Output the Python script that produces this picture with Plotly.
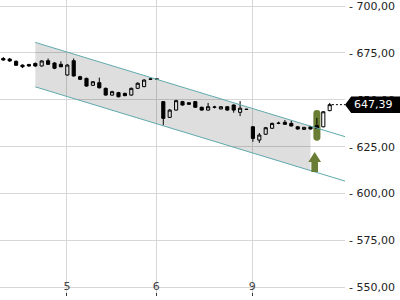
import plotly.graph_objects as go

# ---- data ----
idx = list(range(52))
open_ = [672.0, 671.7, 670.5, 668.5, 668.8, 669.4, 668.0, 670.8, 669.6, 668.9,
         663.2, 670.8, 662.3, 661.4, 657.7, 659.1, 656.1, 652.5, 653.8, 653.4,
         652.5, 656.1, 657.0, 661.1, 661.0, 649.0, 640.6, 644.5, 649.0, 648.4,
         649.0, 646.0, 644.5, 646.0, 645.1, 646.3, 647.2, 643.3, 644.9, 635.6,
         628.5, 631.6, 634.8, 637.4, 638.0, 637.4, 635.6, 634.2, 635.6, 636.2,
         635.6, 644.2]
high = [672.8, 672.3, 671.0, 668.8, 669.2, 669.8, 671.0, 672.0, 670.0, 670.5,
        669.0, 672.0, 662.8, 661.8, 660.0, 661.8, 656.5, 654.8, 654.2, 653.8,
        656.5, 659.3, 661.0, 661.2, 661.1, 649.3, 645.0, 650.0, 649.4, 648.8,
        649.3, 646.3, 648.3, 646.8, 646.6, 646.6, 647.5, 649.3, 645.0, 636.0,
        632.3, 635.5, 637.8, 638.3, 639.2, 639.0, 635.9, 635.5, 635.9, 640.3,
        644.0, 648.3]
low = [670.8, 670.2, 668.0, 666.9, 667.6, 667.6, 667.8, 668.6, 666.3, 667.4,
       662.8, 662.3, 660.5, 657.0, 657.4, 656.0, 652.2, 652.2, 651.3, 651.9,
       652.2, 655.8, 656.7, 660.9, 660.9, 636.5, 640.3, 644.2, 646.9, 647.3,
       645.7, 644.2, 644.3, 645.4, 644.9, 644.2, 643.1, 641.3, 644.8, 627.6,
       627.0, 631.3, 634.5, 637.0, 636.7, 635.8, 634.2, 634.0, 634.2, 634.6,
       635.3, 643.9]
close = [671.2, 670.7, 668.4, 667.6, 668.0, 668.0, 670.7, 668.9, 666.8, 667.6,
         668.5, 662.7, 660.9, 657.3, 659.6, 656.4, 652.5, 654.3, 651.6, 652.2,
         656.1, 658.8, 660.5, 661.0, 661.0, 640.1, 644.5, 649.5, 647.2, 647.6,
         646.0, 644.5, 646.3, 646.1, 646.3, 644.5, 644.5, 645.5, 644.9, 629.4,
         631.2, 635.1, 637.4, 637.5, 636.9, 636.0, 634.4, 635.3, 634.4, 634.8,
         643.6, 647.39]

last_price = 647.39
last_label = "647,39"

# price channel (upper / lower trend lines)
chan_x = [5, 54]
chan_upper = [680.6, 629.7]
chan_lower = [656.9, 606.0]
# shaded part of the channel
fill_x = [5, 48, 48, 5]
fill_y = [680.6, 635.9, 612.2, 656.9]

# buy signal marker
sig_idx = 49
sig_top, sig_bottom = 644.5, 628.2
arrow_x = 48.65
arrow_tip, arrow_neck, arrow_base = 622.1, 616.8, 611.5

x_tickvals = [9.95, 23.88, 38.9]
x_ticktext = ["5", "6", "9"]
y_tickvals = [550, 575, 600, 625, 650, 675, 700]
y_ticktext = ["- 550,00", "- 575,00", "- 600,00", "- 625,00", "- 650,00", "- 675,00", "- 700,00"]

GREEN = "#6a7d35"
TEAL = "#5fa9ad"

fig = go.Figure()

fig.add_trace(go.Scatter(x=fill_x, y=fill_y, fill="toself", mode="none",
                         fillcolor="rgba(0,0,0,0.13)", hoverinfo="skip"))
fig.add_trace(go.Scatter(x=chan_x, y=chan_upper, mode="lines",
                         line=dict(color=TEAL, width=1), hoverinfo="skip"))
fig.add_trace(go.Scatter(x=chan_x, y=chan_lower, mode="lines",
                         line=dict(color=TEAL, width=1), hoverinfo="skip"))

fig.add_trace(go.Candlestick(
    x=idx, open=open_, high=high, low=low, close=close,
    increasing=dict(line=dict(color="black", width=1), fillcolor="white"),
    decreasing=dict(line=dict(color="black", width=1), fillcolor="black"),
    whiskerwidth=0,
))

fig.add_trace(go.Scatter(x=[idx[-1] + 0.35, 54], y=[last_price, last_price], mode="lines",
                         line=dict(color="black", width=1, dash="2px,2px"), hoverinfo="skip"))

# pill around signal candle
hw, ry = 0.55, 1.85
xc = sig_idx
pill = (f"M {xc-hw},{sig_top-ry} Q {xc-hw},{sig_top} {xc},{sig_top} "
        f"Q {xc+hw},{sig_top} {xc+hw},{sig_top-ry} L {xc+hw},{sig_bottom+ry} "
        f"Q {xc+hw},{sig_bottom} {xc},{sig_bottom} Q {xc-hw},{sig_bottom} {xc-hw},{sig_bottom+ry} Z")
shapes = [dict(type="path", path=pill, xref="x", yref="y", fillcolor=GREEN,
               line=dict(width=0), layer="below")]
# up arrow
ah, sh = 0.99, 0.52
ax = arrow_x
arrow = (f"M {ax},{arrow_tip} L {ax+ah},{arrow_neck} L {ax+sh},{arrow_neck} L {ax+sh},{arrow_base} "
         f"L {ax-sh},{arrow_base} L {ax-sh},{arrow_neck} L {ax-ah},{arrow_neck} Z")
shapes.append(dict(type="path", path=arrow, xref="x", yref="y", fillcolor=GREEN,
                   line=dict(width=0), layer="above"))
# price tag
tag_h = 4.4
tag = (f"M 1.0,{last_price} L 1.018,{last_price+tag_h} L 1.2,{last_price+tag_h} "
       f"L 1.2,{last_price-tag_h} L 1.018,{last_price-tag_h} Z")
shapes.append(dict(type="path", path=tag, xref="paper", yref="y", fillcolor="black",
                   line=dict(width=0), layer="above"))

fig.update_layout(
    width=400, height=300,
    margin=dict(l=0, r=55, t=0, b=4),
    paper_bgcolor="white", plot_bgcolor="white",
    showlegend=False,
    shapes=shapes,
    annotations=[dict(x=1.082, y=last_price, xref="paper", yref="y", text=last_label,
                      showarrow=False, xanchor="center", yanchor="middle",
                      font=dict(family="DejaVu Sans", size=11, color="white"))],
    font=dict(family="DejaVu Sans", size=11, color="#222"),
)
fig.update_xaxes(range=[-0.516, 53.39], tickvals=x_tickvals, ticktext=x_ticktext,
                 showgrid=True, gridcolor="#d6d6d6", gridwidth=1, zeroline=False,
                 showline=False, ticks="inside", ticklen=3, tickcolor="#333",
                 ticklabelposition="inside", ticklabeloverflow="allow",
                 rangeslider=dict(visible=False), fixedrange=True)
fig.update_yaxes(range=[545.36, 703.2], side="right", tickvals=y_tickvals, ticktext=y_ticktext,
                 showgrid=True, gridcolor="#d6d6d6", gridwidth=1, zeroline=False,
                 showline=False, ticks="", ticklabelstandoff=3, ticklabeloverflow="allow",
                 fixedrange=True)

fig.write_html("out.html")
